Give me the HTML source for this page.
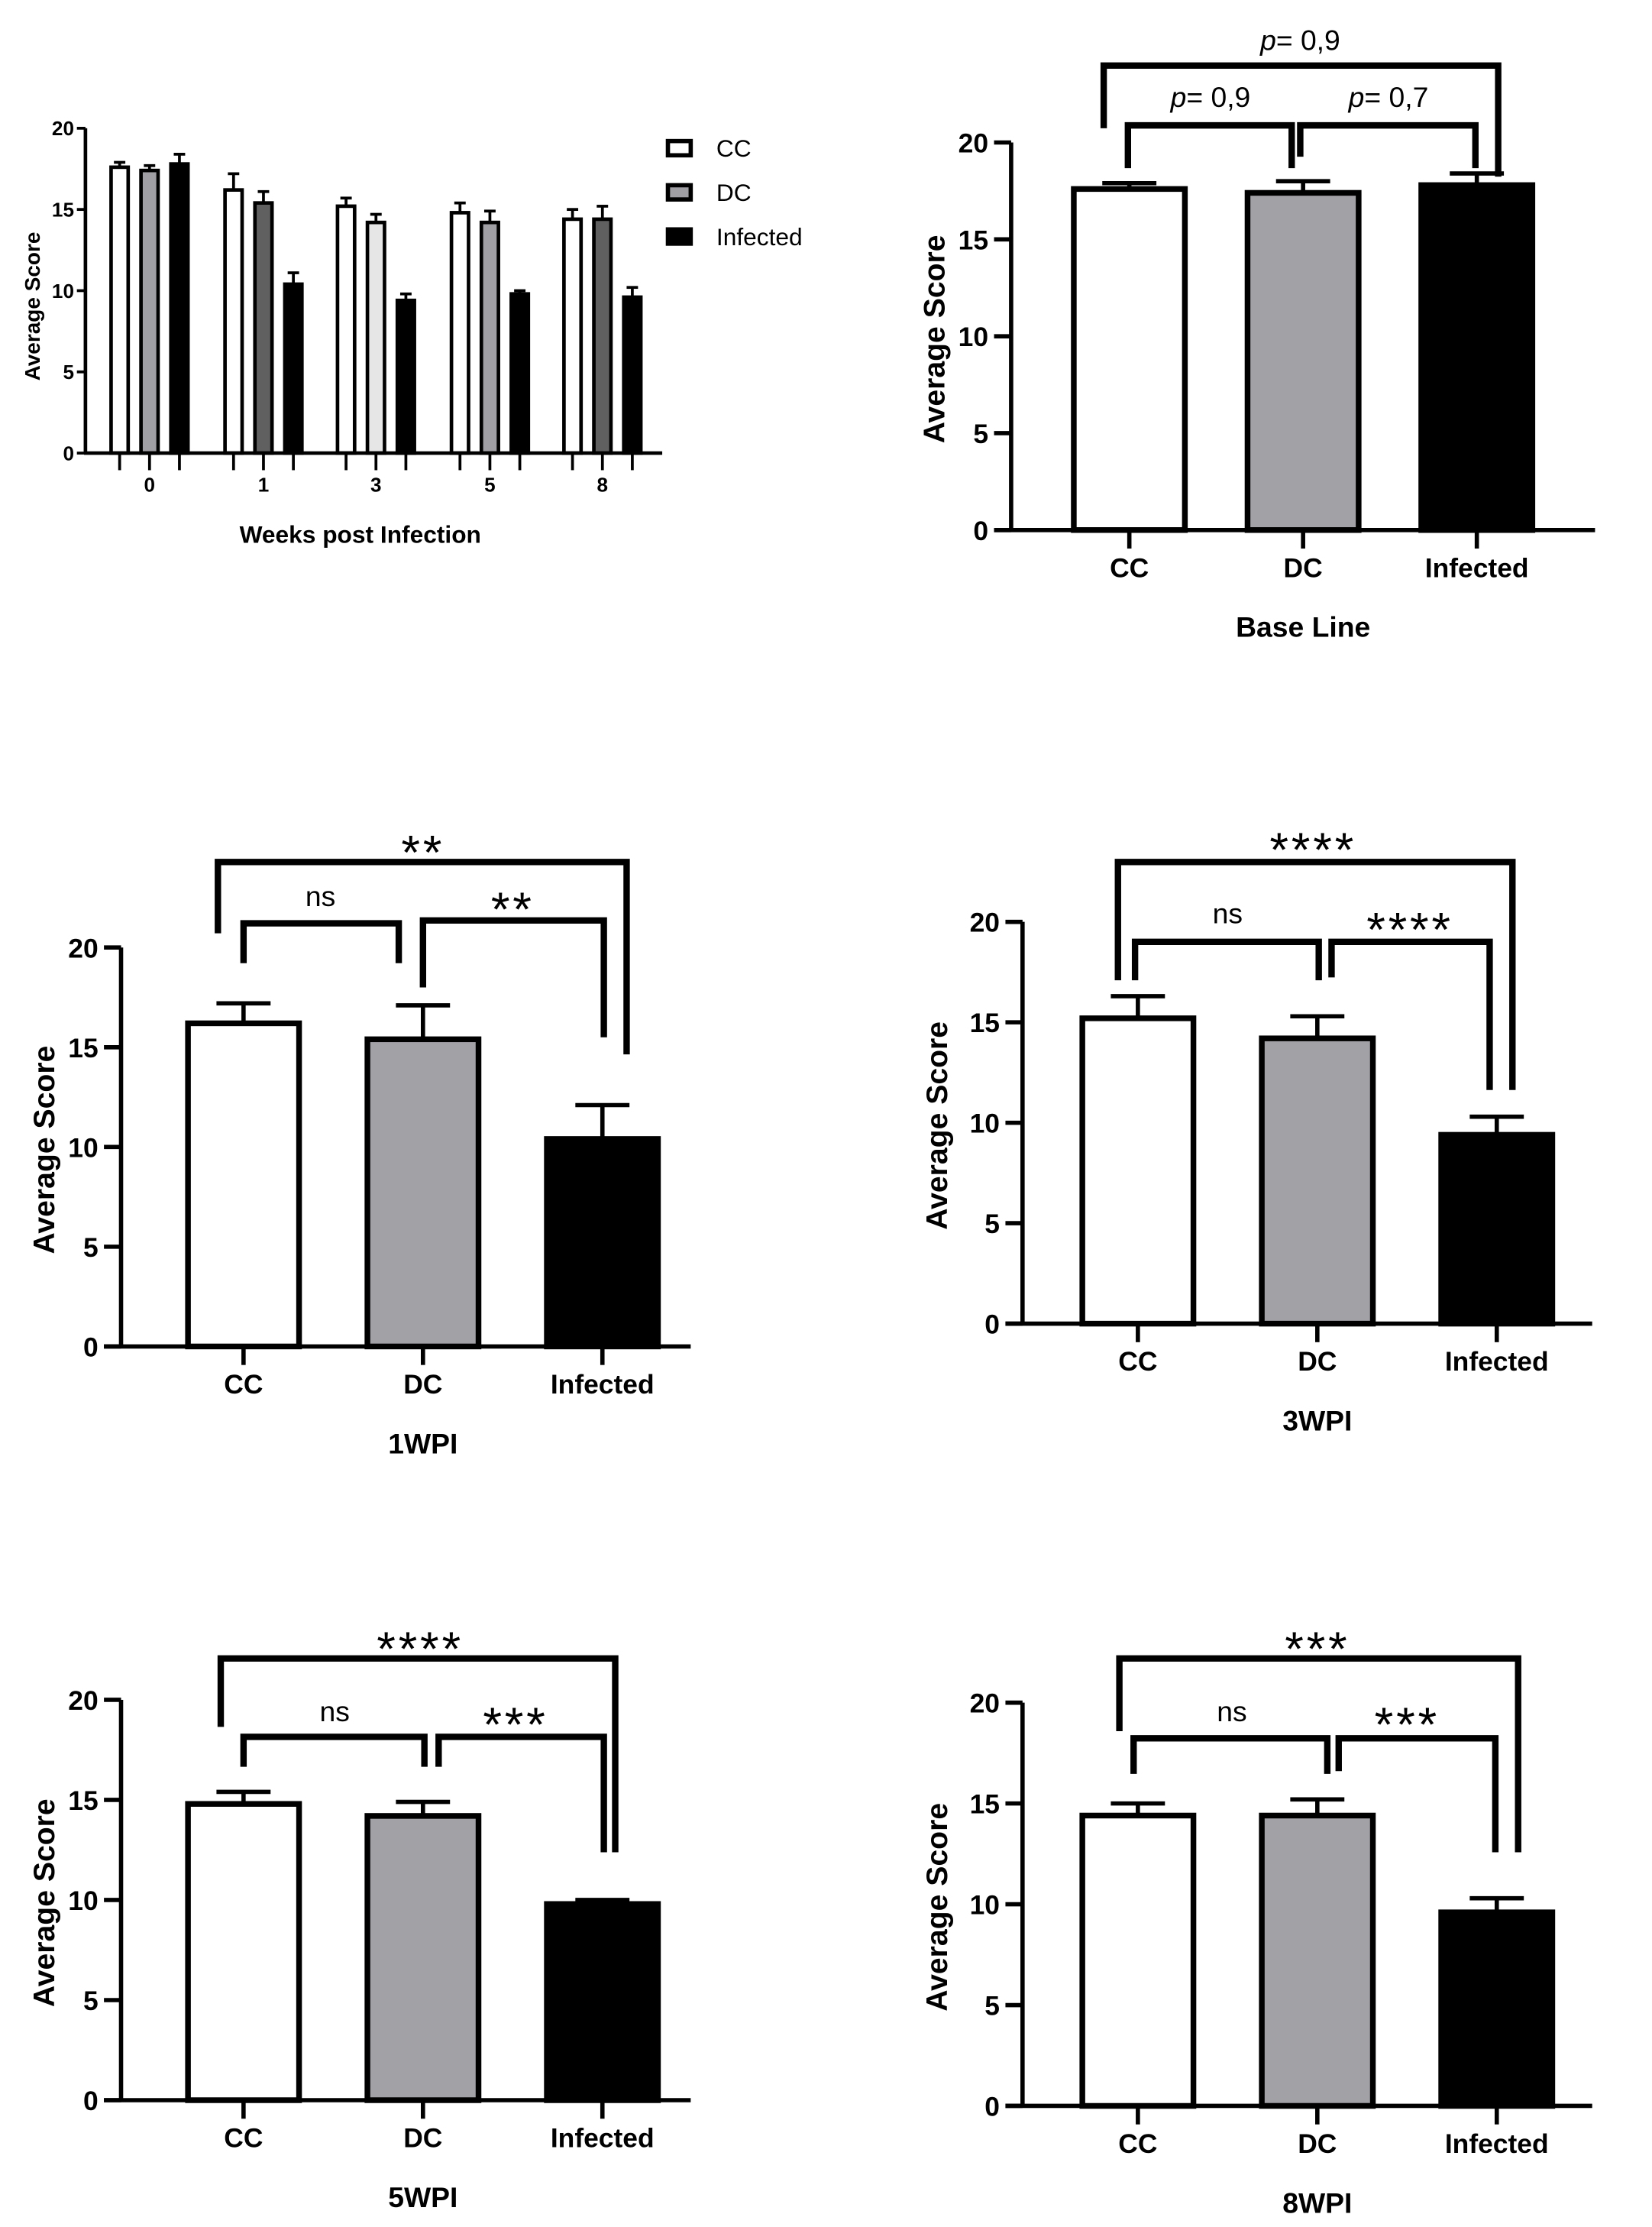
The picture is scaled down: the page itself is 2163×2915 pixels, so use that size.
<!DOCTYPE html>
<html><head><meta charset="utf-8"><style>
html,body{margin:0;padding:0;background:#fff;}
svg{display:block;font-family:"Liberation Sans",sans-serif;}
</style></head><body>
<svg id="fig" width="2163" height="2915" viewBox="0 0 1160 1563" preserveAspectRatio="none" xmlns="http://www.w3.org/2000/svg"></svg>
<script>
// ---------- data ----------
const groups = ["CC","DC","Infected"];
const weeks = ["0","1","3","5","8"];
const ccMeans  = [17.6,16.2,15.2,14.8,14.4];
const ccErr    = [17.9,17.2,15.7,15.4,15.0];
const dcMeans  = [17.4,15.4,14.2,14.2,14.4];
const dcErr    = [17.7,16.1,14.7,14.9,15.2];
const infMeans = [17.8,10.4,9.4,9.8,9.6];
const infErr   = [18.4,11.1,9.8,10.0,10.2];
const yTicks = [0,5,10,15,20];
const baseMeans = [17.6,17.4,17.8], baseErr = [17.9,18.0,18.4];
const w1Means = [16.2,15.4,10.4], w1Err = [17.2,17.1,12.1];
const w3Means = [15.2,14.2,9.4],  w3Err = [16.3,15.3,10.3];
const w5Means = [14.8,14.2,9.8],  w5Err = [15.4,14.9,10.0];
const w8Means = [14.4,14.4,9.6],  w8Err = [15.0,15.2,10.3];
const baseLabels = ["p= 0,9","p= 0,9","p= 0,7"];
const w1Labels = ["**","ns","**"];
const w3Labels = ["****","ns","****"];
const w5Labels = ["****","ns","***"];
const w8Labels = ["***","ns","***"];

const NS="http://www.w3.org/2000/svg";
const svg=document.getElementById('fig');
function el(tag,attrs,parent,text){const e=document.createElementNS(NS,tag);for(const k in attrs)e.setAttribute(k,attrs[k]);if(text!==undefined)e.textContent=text;(parent||svg).appendChild(e);return e;}

// ---------- panel A: grouped ----------
(function(){
  const g=el('g',{});
  
  
  const x0=60,x1=465,yb=318,yt=90;
  const y=v=>yb-(v/20)*(yb-yt);
  const centers=[105,185,264,344,423];
  const off=[-21,0,21], bw=12;
  const dcFills=["#a0a0a4","#606060","#e6e6e6","#a0a0a4","#606060"];
  const series=[[ccMeans,ccErr],[dcMeans,dcErr],[infMeans,infErr]];
  series.forEach((s,si)=>{
    s[0].forEach((m,i)=>{
      const cx=centers[i]+off[si];
      const fill=si===0?"#fff":si===1?dcFills[i]:"#000";
      el('line',{x1:cx,x2:cx,y1:y(m),y2:y(s[1][i]),stroke:'#000','stroke-width':2},g);
      el('line',{x1:cx-4,x2:cx+4,y1:y(s[1][i]),y2:y(s[1][i]),stroke:'#000','stroke-width':2},g);
      const r=el('rect',{x:cx-bw/2,y:y(m),width:bw,height:yb-y(m),fill:fill,stroke:'#000','stroke-width':2.5},g);
      
      
      el('line',{x1:cx,x2:cx,y1:yb,y2:yb+12,stroke:'#000','stroke-width':2},g);
    });
  });
  el('line',{x1:x0,x2:x0,y1:yt,y2:yb,stroke:'#000','stroke-width':2.5},g);
  el('line',{x1:x0-1,x2:x1,y1:yb,y2:yb,stroke:'#000','stroke-width':2.5},g);
  yTicks.forEach(t=>{
    el('line',{x1:x0-6,x2:x0,y1:y(t),y2:y(t),stroke:'#000','stroke-width':2},g);
    el('text',{x:x0-8,y:y(t)+5,'text-anchor':'end','font-size':14,'font-weight':'bold'},g,t);
  });
  weeks.forEach((w,i)=>el('text',{x:centers[i],y:345,'text-anchor':'middle','font-size':14,'font-weight':'bold'},g,w));
  const xt=el('text',{x:253,y:381,'text-anchor':'middle','font-size':17,'font-weight':'bold'},g,'Weeks post Infection');
  
  const yl=el('text',{x:0,y:0,'text-anchor':'middle','font-size':15,'font-weight':'bold',transform:'translate(28,215) rotate(-90)'},g,'Average Score');
  
  const fills=["#fff","#a0a0a4","#000"];
  groups.forEach((gname,i)=>{
    const ly=104+i*31;
    const lg=el('g',{},g);
    
    
    el('rect',{x:469,y:ly-5,width:16,height:10,fill:fills[i],stroke:'#000','stroke-width':3},lg);
    el('text',{x:503,y:ly+6,'font-size':17},lg,gname);
  });
})();

// ---------- single panels ----------
function panel(name,means,errs,labels,L){
  const g=el('g',{});
  
  
  const y=v=>L.yb-(v/20)*(L.yb-L.yt);
  const fills=["#fff","#a2a1a6","#000"];
  means.forEach((m,i)=>{
    const cx=L.cx[i];
    el('line',{x1:cx,x2:cx,y1:y(m),y2:y(errs[i]),stroke:'#000','stroke-width':3},g);
    el('line',{x1:cx-19,x2:cx+19,y1:y(errs[i]),y2:y(errs[i]),stroke:'#000','stroke-width':3},g);
    const r=el('rect',{x:cx-39,y:y(m),width:78,height:L.yb-y(m),fill:fills[i],stroke:'#000','stroke-width':4},g);
    
    
    el('line',{x1:cx,x2:cx,y1:L.yb,y2:L.yb+13,stroke:'#000','stroke-width':3},g);
    el('text',{x:cx,y:L.yb+33,'text-anchor':'middle','font-size':19,'font-weight':'bold'},g,groups[i]);
  });
  el('line',{x1:L.x0,x2:L.x0,y1:L.yt,y2:L.yb,stroke:'#000','stroke-width':3},g);
  el('line',{x1:L.x0-12,x2:L.x1,y1:L.yb,y2:L.yb,stroke:'#000','stroke-width':3},g);
  yTicks.forEach(t=>{
    el('line',{x1:L.x0-12,x2:L.x0,y1:y(t),y2:y(t),stroke:'#000','stroke-width':3},g);
    el('text',{x:L.x0-16,y:y(t)+7,'text-anchor':'end','font-size':19,'font-weight':'bold'},g,t);
  });
  const yl=el('text',{x:0,y:0,'text-anchor':'middle','font-size':21,'font-weight':'bold',transform:`translate(${L.ytx},${(L.yt+L.yb)/2+2}) rotate(-90)`},g,'Average Score');
  
  const xt=el('text',{x:L.cx[1],y:L.yb+75,'text-anchor':'middle','font-size':20,'font-weight':'bold'},g,L.title);
  
  L.br.forEach((b,i)=>{
    const bg=el('g',{},g);
    
    
    el('path',{d:`M${b[0]},${b[3]} V${b[2]} H${b[1]} V${b[4]}`,fill:'none',stroke:'#000','stroke-width':4.5},bg);
    const lab=labels[i];
    const star=lab.indexOf('*')>=0;
    const t=el('text',{x:b[5],y:star?b[6]+10:b[6],'text-anchor':'middle','font-size':star?34:20,'letter-spacing':star?2:0},bg);
    if(lab.startsWith('p')){
      el('tspan',{'font-style':'italic'},t,'p');
      el('tspan',{},t,lab.slice(1));
    } else t.textContent=lab;
  });
}
panel('baseline-chart',baseMeans,baseErr,baseLabels,{x0:710,x1:1120,yb:372,yt:100,cx:[793,915,1037],title:'Base Line',ytx:663,
  br:[[775,1052,46,90,124,913,35],[792,907,88,118,118,850,75],[913,1036,88,110,118,975,75]]});
panel('1wpi-chart',w1Means,w1Err,w1Labels,{x0:85,x1:485,yb:945,yt:665,cx:[171,297,423],title:'1WPI',ytx:38,
  br:[[153,440,605,655,740,297,600],[171,280,648,676,676,225,636],[297,424,646,693,728,360,640]]});
panel('3wpi-chart',w3Means,w3Err,w3Labels,{x0:718,x1:1118,yb:929,yt:647,cx:[799,925,1051],title:'3WPI',ytx:665,
  br:[[785,1062,605,688,765,922,598],[797,926,661,688,688,862,648],[935,1046,661,686,765,990,654]]});
panel('5wpi-chart',w5Means,w5Err,w5Labels,{x0:85,x1:485,yb:1474,yt:1193,cx:[171,297,423],title:'5WPI',ytx:38,
  br:[[155,432,1164,1212,1300,295,1159],[171,298,1219,1240,1240,235,1208],[308,424,1219,1240,1300,362,1212]]});
panel('8wpi-chart',w8Means,w8Err,w8Labels,{x0:718,x1:1118,yb:1478,yt:1195,cx:[799,925,1051],title:'8WPI',ytx:665,
  br:[[786,1066,1164,1215,1300,925,1159],[796,932,1220,1245,1245,865,1208],[940,1050,1220,1243,1300,988,1212]]});
</script>
</body></html>
